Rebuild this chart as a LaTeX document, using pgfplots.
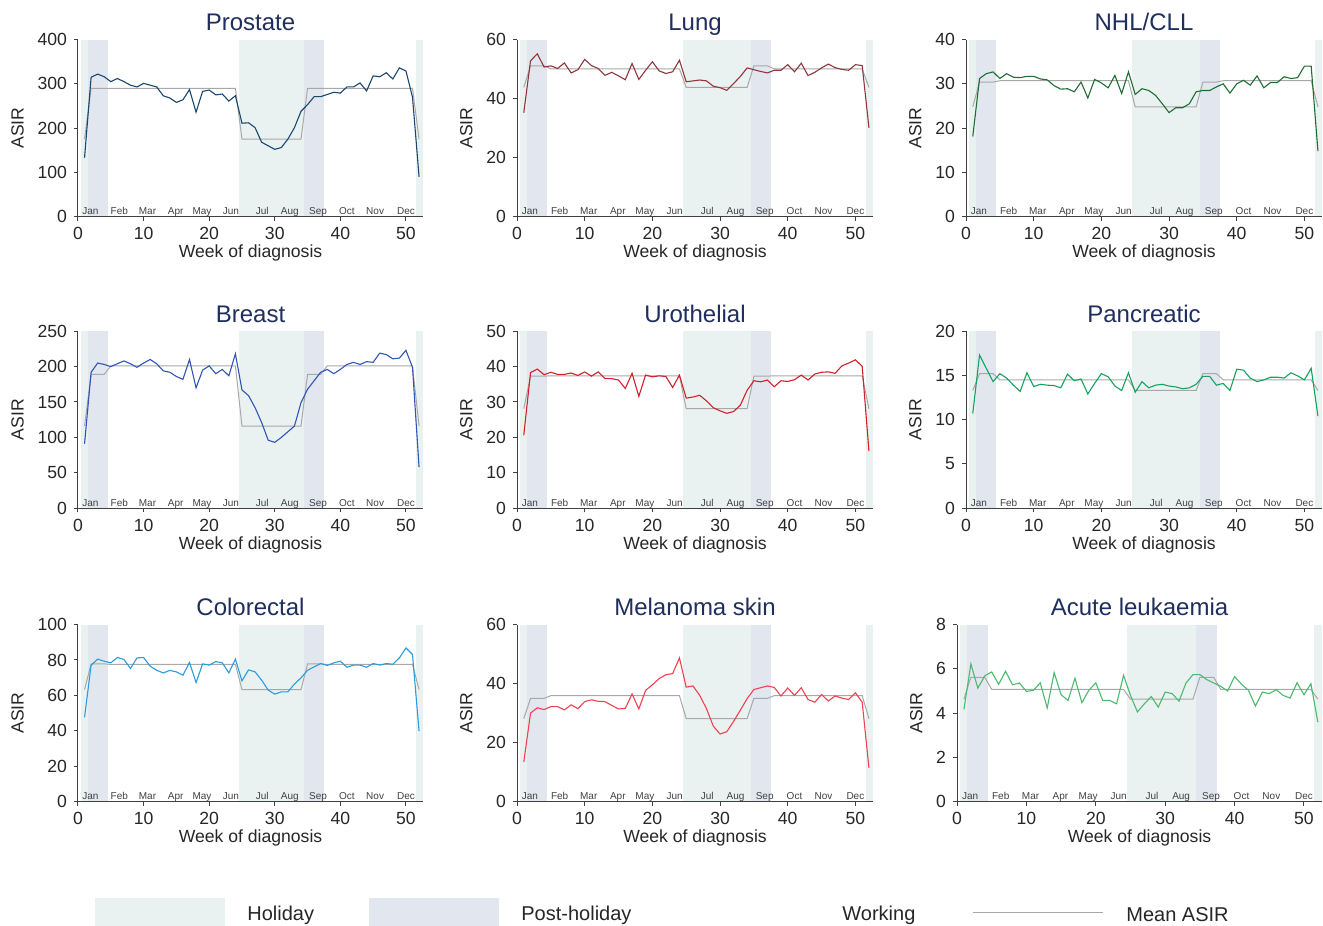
\documentclass[border=0pt]{standalone}
\usepackage{fontspec}
\setmainfont{Liberation Sans}
\usepackage{pgfplots}
\pgfplotsset{compat=1.18}
\usepackage{pgfplotstable}

\definecolor{holiday}{HTML}{EAF2F1}
\definecolor{posthol}{HTML}{E2E7EF}
\definecolor{ttl}{HTML}{1F2E5C}
\definecolor{meangray}{HTML}{A8A8A8}
\definecolor{cpro}{HTML}{1A476F}
\definecolor{clun}{HTML}{90353B}
\definecolor{cnhl}{HTML}{1E6E32}
\definecolor{cbre}{HTML}{2F55B5}
\definecolor{curo}{HTML}{D31F2A}
\definecolor{cpan}{HTML}{13A35F}
\definecolor{ccol}{HTML}{2A9BDD}
\definecolor{cmel}{HTML}{EF4150}
\definecolor{cacu}{HTML}{4DB86E}

% weekly ASIR by cancer site
\pgfplotstableread{
w pro lun nhl bre uro pan col mel acu
1 133 35.2 18.1 91 20.6 10.7 47.6 13.4 4.17
2 315 52.8 31.2 192 38.3 17.3 77.1 30.0 6.22
3 322 55.2 32.3 205 39.3 15.8 80.5 31.8 5.13
4 316 50.7 32.7 203 37.7 14.3 79.3 31.2 5.68
5 305 51.1 31.2 200 38.4 15.2 78.4 32.2 5.86
6 312 50.2 32.3 204 37.8 14.7 81.4 32.2 5.30
7 305 52.1 31.5 208 37.8 13.9 80.3 31.1 5.89
8 297 48.7 31.4 204 38.2 13.2 75.2 32.8 5.28
9 293 49.8 31.7 199 37.5 15.3 81.2 31.5 5.36
10 301 53.3 31.7 205 38.5 13.75 81.4 33.9 4.98
11 297 51.2 31.1 210 37.3 14.0 76.5 34.5 5.03
12 293 50.2 30.9 204 38.5 13.9 74.2 34.0 5.37
13 273 47.9 29.6 194 36.6 13.86 72.7 33.9 4.23
14 268 48.9 28.8 192 36.6 13.6 74.1 32.6 5.83
15 258 47.7 28.9 186 36.2 15.15 73.3 31.4 4.83
16 264 46.4 28.2 182 33.8 14.4 71.4 31.6 4.57
17 287 51.9 30.4 210 38.1 14.6 78.6 36.5 5.58
18 236 46.5 26.8 170 31.6 12.9 67.3 31.4 4.47
19 283 49.6 31.0 195 37.6 14.1 77.8 37.7 5.03
20 286 52.5 30.2 201 37.1 15.2 77.1 39.6 5.37
21 275 49.4 29.1 190 37.4 14.85 79.1 41.7 4.57
22 277 48.5 31.9 196 37.2 13.8 78.4 43.0 4.57
23 261 49.1 27.8 187 34.1 13.3 72.7 43.4 4.42
24 273 53.0 32.7 218 37.6 15.3 80.5 48.7 5.71
25 211 45.7 27.6 167 31.1 13.1 68.2 38.8 4.80
26 212 46.0 28.9 159 31.4 14.3 74.4 39.2 4.05
27 201 46.3 28.5 142 31.9 13.6 73.3 36.0 4.42
28 168 46.0 27.4 121 30.3 13.9 68.6 31.5 4.75
29 160 44.2 25.5 96 28.4 14.0 63.0 25.6 4.27
30 152 43.7 23.5 93 27.5 13.8 60.7 22.9 4.95
31 156 42.8 24.6 100 26.8 13.7 62.0 23.7 4.88
32 175 45.1 24.6 108 27.3 13.5 62.0 27.2 4.54
33 201 47.5 25.5 116 29.1 13.6 66.4 31.0 5.36
34 238 50.4 28.2 149 33.3 14.0 69.9 34.9 5.74
35 253 49.8 28.5 168 36.0 14.9 74.2 38.0 5.74
36 271 49.2 28.5 180 35.7 14.9 76.1 38.6 5.51
37 271 48.7 29.3 192 36.2 13.9 78.0 39.2 5.36
38 276 49.6 30.0 196 34.3 14.1 76.9 38.7 5.21
39 281 49.6 27.9 190 36.0 13.3 78.4 35.8 5.00
40 279 51.5 30.0 196 35.8 15.7 79.3 38.5 5.65
41 293 49.1 30.8 203 36.3 15.6 75.9 36.0 5.30
42 293 52.0 29.7 206 37.6 14.7 77.1 38.6 5.03
43 302 47.8 31.8 203 36.2 14.3 77.1 34.6 4.32
44 284 48.9 29.1 207 37.9 14.5 75.9 33.7 4.95
45 318 50.4 30.3 206 38.4 14.8 78.0 36.3 4.88
46 316 51.7 30.3 219 38.5 14.8 77.1 34.1 5.06
47 325 50.5 31.6 217 38.1 14.7 78.0 35.8 4.80
48 311 49.9 31.2 211 40.2 15.3 77.6 35.1 4.68
49 336 49.6 31.4 212 41.0 14.95 81.2 34.6 5.37
50 329 51.5 34.0 223 41.9 14.5 86.8 36.9 4.83
51 270 51.2 34.0 199 40.1 15.8 83.1 33.7 5.33
52 90 30.1 14.8 58 16.1 10.4 39.8 11.4 3.59
}\asir

\tikzset{
  mon/.style={font=\fontsize{5}{6}\selectfont, text=black!75, anchor=base,
    yshift=0.9pt, inner sep=0pt},
  meanline/.style={meangray, line width=0.5pt},
  asirline/.style={line width=0.55pt},
}

\pgfplotsset{
  panel/.style={
    scale only axis, height=88.5pt,
    xmin=0, xmax=52.6, ymin=0,
    axis x line*=bottom, axis y line*=left,
    axis line style={black!75, line width=0.5pt},
    tick style={black!75, line width=0.5pt},
    tick align=outside, major tick length=2pt,
    xtick={0,10,...,50},
    /pgf/number format/assume math mode=true,
    /pgf/number format/1000 sep={},
    tick label style={font=\fontsize{8.8}{10}\selectfont, text=black!85},
    xlabel={Week of diagnosis}, ylabel={ASIR},
    label style={font=\fontsize{8.8}{10}\selectfont, text=black!85},
    xlabel style={at={(axis description cs:0.5,0)}, anchor=base, yshift=-20.5pt},
    title style={font=\fontsize{12}{14}\selectfont, text=ttl,
      at={(axis description cs:0.5,1)}, anchor=base, yshift=-1.5pt},
    axis on top, clip=false,
  },
}

\newcommand{\bands}[1]{%
  \addplot[fill=holiday, draw=none] coordinates {(0.5,#1) (1.5,#1)} \closedcycle;
  \addplot[fill=posthol, draw=none] coordinates {(1.5,#1) (4.5,#1)} \closedcycle;
  \addplot[fill=holiday, draw=none] coordinates {(24.5,#1) (34.5,#1)} \closedcycle;
  \addplot[fill=posthol, draw=none] coordinates {(34.5,#1) (37.5,#1)} \closedcycle;
  \addplot[fill=holiday, draw=none] coordinates {(51.5,#1) (52.6,#1)} \closedcycle;
}
% holiday / post-holiday / working means
\newcommand{\meanasir}[3]{%
  \addplot[meanline] coordinates {(1,#1) (2,#2) (4,#2) (5,#3) (24,#3) (25,#1)
    (34,#1) (35,#2) (37,#2) (38,#3) (51,#3) (52,#1)};
}
\newcommand{\months}{%
  \node[mon] at (axis cs:1.9,0) {Jan};
  \node[mon] at (axis cs:6.3,0) {Feb};
  \node[mon] at (axis cs:10.6,0) {Mar};
  \node[mon] at (axis cs:14.9,0) {Apr};
  \node[mon] at (axis cs:18.9,0) {May};
  \node[mon] at (axis cs:23.3,0) {Jun};
  \node[mon] at (axis cs:28.1,0) {Jul};
  \node[mon] at (axis cs:32.3,0) {Aug};
  \node[mon] at (axis cs:36.6,0) {Sep};
  \node[mon] at (axis cs:41.0,0) {Oct};
  \node[mon] at (axis cs:45.3,0) {Nov};
  \node[mon] at (axis cs:50.0,0) {Dec};
}

\begin{document}
\begin{tikzpicture}
\path[use as bounding box] (0,0) rectangle (661.5pt,463pt);

% row 1
\begin{axis}[panel, at={(39pt,354.7pt)}, anchor=south west, width=172.5pt,
  ymax=400, ytick={0,100,...,400}, title={Prostate}]
\bands{400}
\meanasir{175}{290}{290}
\addplot[asirline, cpro] table[x=w, y=pro] {\asir};
\months
\end{axis}

\begin{axis}[panel, at={(258.5pt,354.7pt)}, anchor=south west, width=178pt,
  ymax=60, ytick={0,20,40,60}, title={Lung}]
\bands{60}
\meanasir{43.8}{51.1}{50.1}
\addplot[asirline, clun] table[x=w, y=lun] {\asir};
\months
\end{axis}

\begin{axis}[panel, at={(483pt,354.7pt)}, anchor=south west, width=178pt,
  ymax=40, ytick={0,10,...,40}, title={NHL/CLL}]
\bands{40}
\meanasir{24.8}{30.4}{30.7}
\addplot[asirline, cnhl] table[x=w, y=nhl] {\asir};
\months
\end{axis}

% row 2
\begin{axis}[panel, at={(39pt,208.9pt)}, anchor=south west, width=172.5pt,
  ymax=250, ytick={0,50,...,250}, title={Breast}]
\bands{250}
\meanasir{116}{189}{201}
\addplot[asirline, cbre] table[x=w, y=bre] {\asir};
\months
\end{axis}

\begin{axis}[panel, at={(258.5pt,208.9pt)}, anchor=south west, width=178pt,
  ymax=50, ytick={0,10,...,50}, title={Urothelial}]
\bands{50}
\meanasir{28.1}{37.3}{37.4}
\addplot[asirline, curo] table[x=w, y=uro] {\asir};
\months
\end{axis}

\begin{axis}[panel, at={(483pt,208.9pt)}, anchor=south west, width=178pt,
  ymax=20, ytick={0,5,...,20}, title={Pancreatic}]
\bands{20}
\meanasir{13.3}{15.2}{14.5}
\addplot[asirline, cpan] table[x=w, y=pan] {\asir};
\months
\end{axis}

% row 3
\begin{axis}[panel, at={(39pt,62.2pt)}, anchor=south west, width=172.5pt,
  ymax=100, ytick={0,20,...,100}, title={Colorectal}]
\bands{100}
\meanasir{63.3}{77.8}{77.5}
\addplot[asirline, ccol] table[x=w, y=col] {\asir};
\months
\end{axis}

\begin{axis}[panel, at={(258.5pt,62.2pt)}, anchor=south west, width=178pt,
  ymax=60, ytick={0,20,40,60}, title={Melanoma skin}]
\bands{60}
\meanasir{28.1}{35.0}{35.9}
\addplot[asirline, cmel] table[x=w, y=mel] {\asir};
\months
\end{axis}

\begin{axis}[panel, at={(478.5pt,62.2pt)}, anchor=south west, width=182.5pt,
  ymax=8, ytick={0,2,...,8}, title={Acute leukaemia}]
\bands{8}
\meanasir{4.63}{5.62}{5.07}
\addplot[asirline, cacu] table[x=w, y=acu] {\asir};
\months
\end{axis}

% legend
\begin{scope}[font=\fontsize{10}{12}\selectfont, text=black!85]
\fill[holiday] (47.5pt,0pt) rectangle (112.5pt,14pt);
\node[anchor=west, inner sep=0pt] at (123.5pt,5.5pt) {Holiday};
\fill[posthol] (184.5pt,0pt) rectangle (249.5pt,14pt);
\node[anchor=west, inner sep=0pt] at (260.5pt,5.5pt) {Post-holiday};
\node[anchor=west, inner sep=0pt] at (421pt,5.5pt) {Working};
\draw[meanline] (486.5pt,6.5pt) -- (551.5pt,6.5pt);
\node[anchor=west, inner sep=0pt] at (563pt,5.5pt) {Mean ASIR};
\end{scope}
\end{tikzpicture}
\end{document}
